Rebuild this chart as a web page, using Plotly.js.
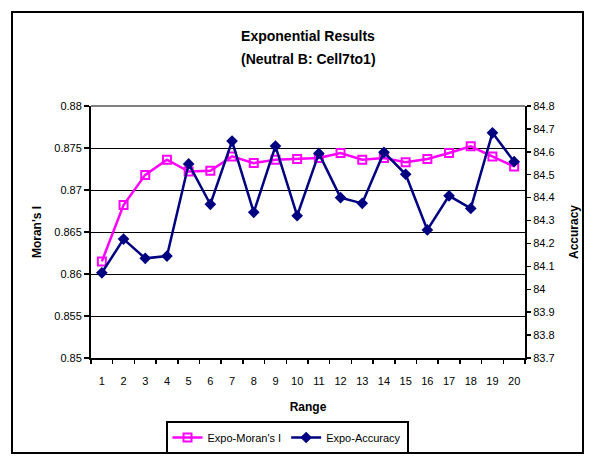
<!DOCTYPE html>
<html>
<head>
<meta charset="utf-8">
<script src="https://cdn.plot.ly/plotly-3.0.1.min.js"></script>
<style>
html,body{margin:0;padding:0;background:#fff;}
#chart{width:592px;height:456px;}
</style>
</head>
<body>
<div id="chart"></div>
<script>
const ranges = ["1","2","3","4","5","6","7","8","9","10","11","12","13","14","15","16","17","18","19","20"];
const moranI = [0.8615, 0.8682, 0.8718, 0.8736, 0.8722, 0.8723, 0.8740, 0.8732, 0.8736, 0.8737,
                0.8738, 0.8744, 0.8736, 0.8738, 0.8733, 0.8737, 0.8744, 0.8752, 0.8740, 0.8728];
const accuracy = [84.072, 84.219, 84.135, 84.145, 84.547, 84.371, 84.647, 84.336, 84.625, 84.321,
                  84.593, 84.400, 84.375, 84.598, 84.502, 84.259, 84.408, 84.353, 84.683, 84.557];
const seriesNames = ["Expo-Moran's I", "Expo-Accuracy"];

const font = "Liberation Sans, Arial, sans-serif";

const traces = [
  {
    x: ranges, y: moranI, name: seriesNames[0], type: 'scatter', mode: 'lines+markers',
    xaxis: 'x', yaxis: 'y',
    line: {color: '#FF00FF', width: 2.5},
    marker: {symbol: 'square-open', size: 8, color: '#FF00FF', line: {width: 2, color: '#FF00FF'}}
  },
  {
    x: ranges, y: accuracy, name: seriesNames[1], type: 'scatter', mode: 'lines+markers',
    xaxis: 'x', yaxis: 'y2',
    line: {color: '#000080', width: 2.5},
    marker: {symbol: 'diamond', size: 9, color: '#000080'}
  }
];

const layout = {
  width: 592, height: 456,
  margin: {l: 91, r: 67, t: 106, b: 98, autoexpand: false},
  paper_bgcolor: '#ffffff', plot_bgcolor: '#ffffff',
  font: {family: font, size: 11, color: '#000'},
  showlegend: true,
  title: {
    text: '<b>Exponential Results</b>',
    font: {family: font, size: 14, color: '#000'},
    x: 308/592, xref: 'container', xanchor: 'center',
    y: 1 - 36/456, yref: 'container', yanchor: 'middle'
  },
  annotations: [{
    text: '<b>(Neutral B: Cell7to1)</b>', showarrow: false,
    xref: 'paper', yref: 'paper', x: 0.5, y: (358-59)/252,
    xanchor: 'center', yanchor: 'middle',
    font: {family: font, size: 14, color: '#000'}
  }],
  xaxis: {
    type: 'category', tickson: 'boundaries', tickangle: 0,
    range: [-0.5, 19.5], autorange: false,
    ticks: 'outside', ticklen: 4, tickwidth: 1.5, tickcolor: '#000',
    ticklabelstandoff: 12,
    showline: true, linecolor: '#000', linewidth: 2,
    showgrid: false, zeroline: false,
    tickfont: {family: font, size: 11, color: '#000'},
    title: {text: '<b>Range</b>', font: {family: font, size: 12, color: '#000'}, standoff: 16},
    automargin: false
  },
  xaxis2: {
    overlaying: 'x', anchor: 'y', side: 'bottom', type: 'linear',
    range: [-0.5, 19.5], tick0: -0.5, dtick: 1,
    ticks: 'inside', ticklen: 4, tickwidth: 1.5, tickcolor: '#000',
    showticklabels: false, showline: false, showgrid: false, zeroline: false
  },
  yaxis: {
    range: [0.85, 0.88], dtick: 0.005, tick0: 0.85,
    ticks: 'outside', ticklen: 5, tickwidth: 1.5, tickcolor: '#000',
    showline: true, linecolor: '#000', linewidth: 2,
    showgrid: true, gridcolor: '#000', gridwidth: 1, zeroline: false,
    tickfont: {family: font, size: 11, color: '#000'},
    title: {text: "<b>Moran's I</b>", font: {family: font, size: 12, color: '#000'}, standoff: 10},
    automargin: false
  },
  yaxis2: {
    overlaying: 'y', side: 'right', anchor: 'x',
    range: [83.7, 84.8], dtick: 0.1, tick0: 83.7,
    ticks: 'outside', ticklen: 4, tickwidth: 1.5, tickcolor: '#000',
    showline: true, linecolor: '#000', linewidth: 2,
    showgrid: false, zeroline: false,
    tickfont: {family: font, size: 11, color: '#000'},
    title: {text: '<b>Accuracy</b>', font: {family: font, size: 12, color: '#000'}, standoff: 16},
    automargin: false
  },
  yaxis3: {
    overlaying: 'y', side: 'right', anchor: 'x',
    range: [83.7, 84.8], dtick: 0.1, tick0: 83.7,
    ticks: 'inside', ticklen: 4, tickwidth: 1.5, tickcolor: '#000',
    showticklabels: false, showline: false, showgrid: false, zeroline: false
  },
  legend: {
    orientation: 'h', x: (287-91)/434, xanchor: 'center', y: (358-421)/252, yanchor: 'top',
    bordercolor: '#000', borderwidth: 2, bgcolor: '#fff',
    font: {family: font, size: 11, color: '#000'},
    itemwidth: 30, tracegroupgap: 0
  },
  shapes: [
    {type: 'line', xref: 'paper', yref: 'paper', x0: 0, x1: 1, y0: 1, y1: 1,
     line: {color: '#808080', width: 2}, layer: 'above'},
    {type: 'rect', xref: 'paper', yref: 'paper',
     x0: (12-91)/434, x1: (583-91)/434, y0: (358-453)/252, y1: (358-12)/252,
     line: {color: '#000', width: 2}, layer: 'below'}
  ]
};

Plotly.newPlot('chart', traces, layout, {displayModeBar: false, staticPlot: true});
</script>
</body>
</html>
